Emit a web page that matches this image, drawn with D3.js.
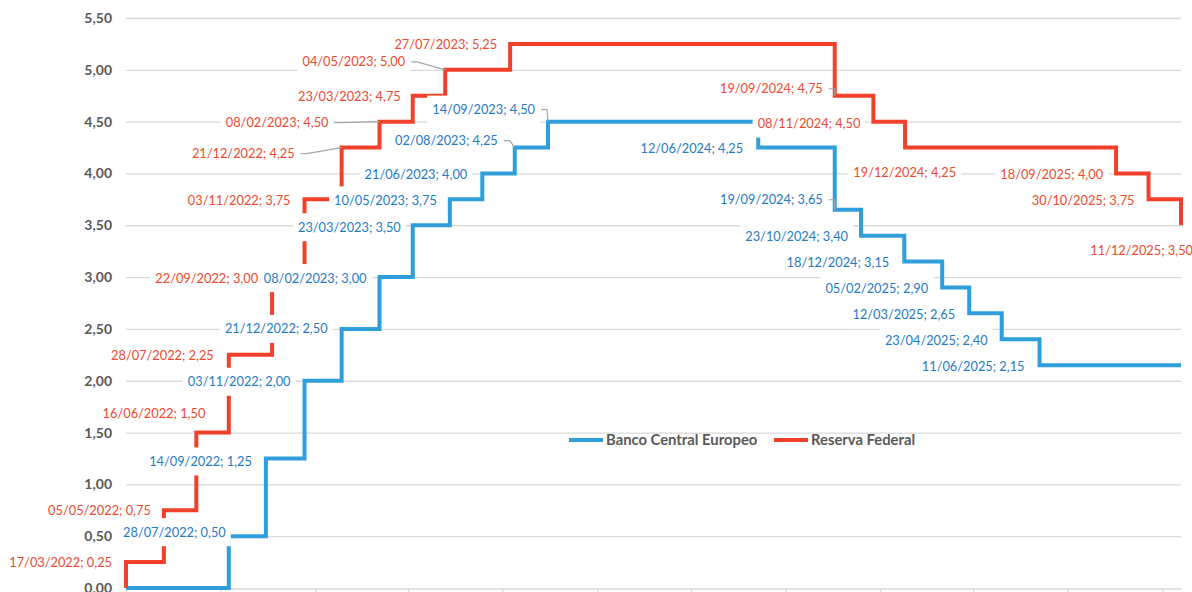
<!DOCTYPE html>
<html>
<head>
<meta charset="utf-8">
<script src="https://cdn.jsdelivr.net/npm/d3@7/dist/d3.min.js"></script>
<style>
  body { margin: 0; background: #fff; }
  svg { display: block; }
</style>
</head>
<body>
<script>
var w = 1192;
var h = 592;

// data
var startDate = "17/03/2022";
var endDate = "11/12/2025";

var seriesNames = ["Banco Central Europeo", "Reserva Federal"];

var ecbInitial = 0.00;
var ecbDates = ["28/07/2022", "14/09/2022", "03/11/2022", "21/12/2022", "08/02/2023", "23/03/2023",
  "10/05/2023", "21/06/2023", "02/08/2023", "14/09/2023", "12/06/2024", "19/09/2024",
  "23/10/2024", "18/12/2024", "05/02/2025", "12/03/2025", "23/04/2025", "11/06/2025"];
var ecbRates = [0.50, 1.25, 2.00, 2.50, 3.00, 3.50, 3.75, 4.00, 4.25, 4.50, 4.25, 3.65,
  3.40, 3.15, 2.90, 2.65, 2.40, 2.15];

var fedInitial = 0.00;
var fedDates = ["17/03/2022", "05/05/2022", "16/06/2022", "28/07/2022", "22/09/2022", "03/11/2022",
  "21/12/2022", "08/02/2023", "23/03/2023", "04/05/2023", "27/07/2023", "19/09/2024",
  "08/11/2024", "19/12/2024", "18/09/2025", "30/10/2025", "11/12/2025"];
var fedRates = [0.25, 0.75, 1.50, 2.25, 3.00, 3.75, 4.25, 4.50, 4.75, 5.00, 5.25, 4.75,
  4.50, 4.25, 4.00, 3.75, 3.50];

var yTicks = [0, 0.5, 1, 1.5, 2, 2.5, 3, 3.5, 4, 4.5, 5, 5.5];

// label placement (px offset of the label's right edge / middle from its point)
var ecbLabelDx = [-3, -14, -14, -14, -13, -12, -13, -15, -17, -13, -15, -12, -13, -15, -14, -14, -14, -15];
var ecbLabelDy = [-4, 3, 1, 0, 1, 2, 1, 1, -7, -12, 1, -10, 1, 1, 1, 1, 1, 1];
var ecbLeader = [8, 9, 11];

var fedLabelDx = [-14, -13, 9, -15, -14, -14, -47, -51, -12, -40, -13, -12, -13, 51, -13, -14, 12];
var fedLabelDy = [0, 0, -19, 1, 1, 1, 6, 1, 1, -8, 1, -7, 2, 25, 1, 1, 25];
var fedLeader = [6, 7, 9, 11];

var blueLine = "#2e9fda", blueText = "#1f7bc4";
var redLine = "#f2402a", redText = "#ee4a30";
var grey = "#595959", gridColor = "#d9d9d9";
var font = "Lato, 'Open Sans', sans-serif";

var parse = d3.timeParse("%d/%m/%Y");
var fmt = function(v) { return d3.format(".2f")(v).replace(".", ","); };

var x = d3.scaleTime()
  .domain([parse(startDate), parse(endDate)])
  .range([126, 1181]);

var y = d3.scaleLinear()
  .domain([0, 5.5])
  .range([588, 18]);

var svg = d3.select("body")
  .append("svg")
  .attr("width", w)
  .attr("height", h);

// gridlines
svg.append("g")
  .selectAll("line")
  .data(yTicks.slice(1))
  .enter()
  .append("line")
  .attr("x1", x.range()[0])
  .attr("x2", x.range()[1])
  .attr("y1", function(d) { return y(d) + 0.5; })
  .attr("y2", function(d) { return y(d) + 0.5; })
  .attr("stroke", gridColor)
  .attr("stroke-width", 1.3);

// x axis: ticks every 4 months, labels fall below the picture
var xTicks = d3.range(0, 45, 4).map(function(m) { return d3.timeMonth.offset(parse(startDate), m); });
var xAxis = svg.append("g")
  .attr("transform", "translate(0," + (y(0) + 0.5) + ")")
  .call(d3.axisBottom(x).tickValues(xTicks).tickSize(5).tickSizeOuter(0).tickFormat(""));
xAxis.select(".domain").attr("stroke", gridColor).attr("stroke-width", 1.3);
xAxis.selectAll(".tick line").attr("stroke", gridColor).attr("stroke-width", 1.3);

// y axis labels
var yAxis = svg.append("g")
  .attr("transform", "translate(126,0)")
  .call(d3.axisLeft(y).tickValues(yTicks).tickSize(0).tickPadding(14).tickFormat(fmt));
yAxis.select(".domain").remove();
yAxis.selectAll("text")
  .attr("fill", grey)
  .attr("font-family", font)
  .attr("font-weight", "bold")
  .attr("font-size", "14px");

function stepPoints(initial, dates, rates) {
  var pts = [[parse(startDate), initial]];
  dates.forEach(function(d, i) { pts.push([parse(d), rates[i]]); });
  pts.push([parse(endDate), rates[rates.length - 1]]);
  return pts;
}

var line = d3.line()
  .x(function(d) { return x(d[0]); })
  .y(function(d) { return y(d[1]); })
  .curve(d3.curveStepAfter);

svg.append("path")
  .datum(stepPoints(ecbInitial, ecbDates, ecbRates))
  .attr("d", line)
  .attr("fill", "none")
  .attr("stroke", blueLine)
  .attr("stroke-width", 4);

svg.append("path")
  .datum(stepPoints(fedInitial, fedDates, fedRates))
  .attr("d", line)
  .attr("fill", "none")
  .attr("stroke", redLine)
  .attr("stroke-width", 4);

// data labels
function labelData(dates, rates, dx, dy, leader, color) {
  return dates.map(function(d, i) {
    return {
      text: d + "; " + fmt(rates[i]),
      px: x(parse(d)), py: y(rates[i]),
      right: x(parse(d)) + dx[i], cy: y(rates[i]) + dy[i],
      leader: leader.indexOf(i) >= 0,
      color: color
    };
  });
}

var labels = labelData(ecbDates, ecbRates, ecbLabelDx, ecbLabelDy, ecbLeader, blueText)
  .concat(labelData(fedDates, fedRates, fedLabelDx, fedLabelDy, fedLeader, redText));

var boxLayer = svg.append("g");
var leaderLayer = svg.append("g");
var textLayer = svg.append("g");

var texts = textLayer.selectAll("text")
  .data(labels)
  .enter()
  .append("text")
  .text(function(d) { return d.text; })
  .attr("x", function(d) { return d.right; })
  .attr("y", function(d) { return d.cy; })
  .attr("dy", "0.35em")
  .attr("text-anchor", "end")
  .attr("font-family", font)
  .attr("font-size", "12.8px")
  .attr("fill", function(d) { return d.color; });

texts.each(function(d) { d.width = this.getComputedTextLength(); });

boxLayer.selectAll("rect")
  .data(labels)
  .enter()
  .append("rect")
  .attr("x", function(d) { return d.right - d.width - 5; })
  .attr("y", function(d) { return d.cy - 14; })
  .attr("width", function(d) { return d.width + 10; })
  .attr("height", 28)
  .attr("fill", "#fff");

leaderLayer.selectAll("polyline")
  .data(labels.filter(function(d) { return d.leader; }))
  .enter()
  .append("polyline")
  .attr("points", function(d) {
    return [[d.right + 6, d.cy], [d.right + 12, d.cy], [d.px, d.py]].join(" ");
  })
  .attr("fill", "none")
  .attr("stroke", "#a6a6a6")
  .attr("stroke-width", 1.2);

// legend
var legend = svg.append("g")
  .selectAll("g")
  .data(seriesNames)
  .enter()
  .append("g")
  .attr("transform", function(d, i) { return "translate(" + [569, 774][i] + ",440)"; });

legend.append("line")
  .attr("x1", 0)
  .attr("x2", 34)
  .attr("stroke", function(d, i) { return [blueLine, redLine][i]; })
  .attr("stroke-width", 4);

legend.append("text")
  .text(function(d) { return d; })
  .attr("x", 37)
  .attr("dy", "0.35em")
  .attr("fill", grey)
  .attr("font-family", font)
  .attr("font-weight", "bold")
  .attr("font-size", "14.8px");
</script>
</body>
</html>
